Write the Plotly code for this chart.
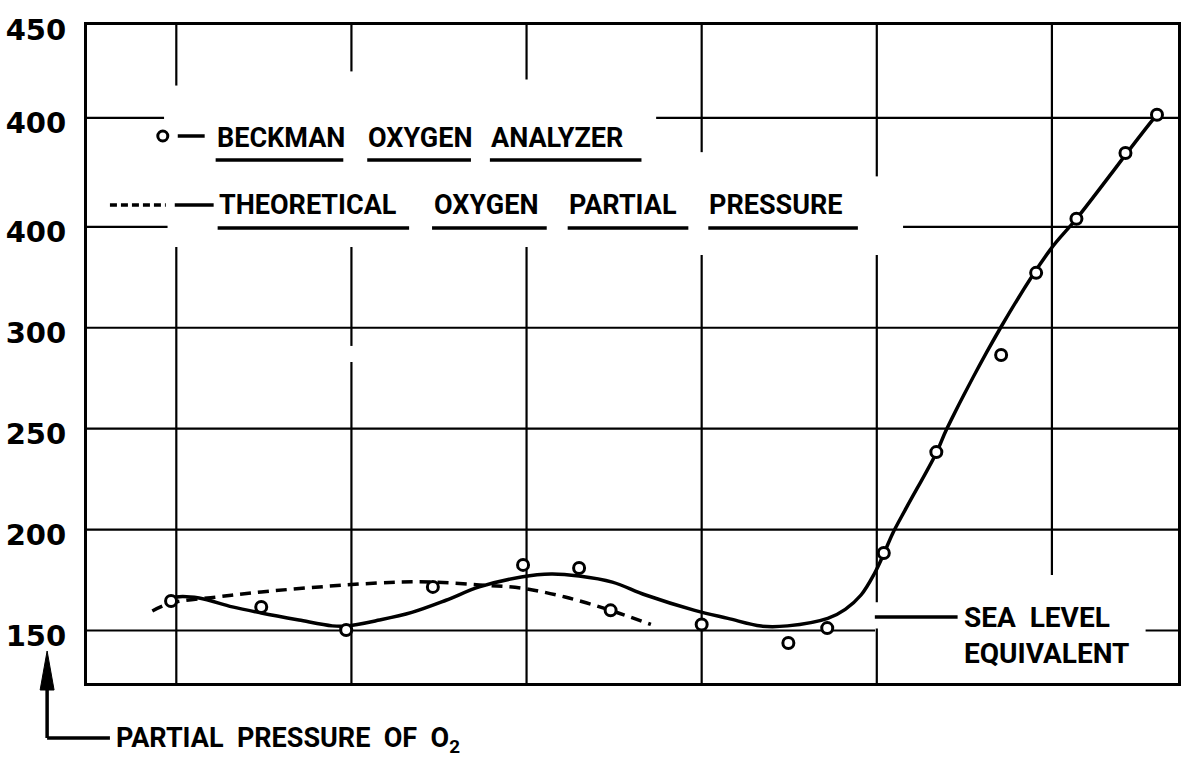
import plotly.graph_objects as go

# Beckman oxygen analyzer readings (x in grid-division units)
beckman_x = [0.97, 1.485, 1.97, 2.465, 2.98, 3.30, 3.48, 4.00, 4.495, 4.717,
             5.04, 5.34, 5.71, 5.91, 6.14, 6.42, 6.60]
beckman_y = [164.6, 161.7, 150.2, 171.6, 182.5, 181.0, 160.0, 153.0, 143.8, 151.2,
             188.4, 238.4, 286.5, 327.2, 354.0, 386.6, 405.5]

# Smoothed curve drawn through the analyzer readings
fit_x = [0.97, 1.0, 1.13, 1.32, 1.485, 1.70, 1.89, 1.97, 2.16, 2.345, 2.54, 2.73,
         2.97, 3.14, 3.30, 3.49, 3.68, 3.96, 4.15, 4.34, 4.49, 4.72, 4.82, 4.91,
         4.985, 5.04, 5.09, 5.17, 5.34, 5.40, 5.71, 5.99, 6.14, 6.60, 6.62]
fit_y = [165.5, 166.6, 166.1, 161.7, 158.7, 155.2, 152.3, 152.2, 155.2, 159.0, 165.0, 171.6,
         176.5, 178.0, 177.0, 174.0, 167.6, 160.0, 156.0, 152.2, 152.3, 156.0, 160.5, 167.6,
         178.0, 188.0, 198.0, 211.0, 238.0, 250.0, 300.5, 338.6, 354.0, 405.5, 407.0]

# Theoretical oxygen partial pressure
theory_x = [0.863, 0.97, 1.23, 1.485, 1.97, 2.27, 2.46, 2.73, 2.97, 3.22, 3.48, 3.71]
theory_y = [159.7, 163.6, 166.6, 169.1, 172.6, 174.0, 174.0, 172.6, 171.0, 166.6, 160.0, 153.0]

# Y axis ticks as lettered on the chart
y_ticks = [150, 200, 250, 300, 350, 404, 450]
y_labels = ["150", "200", "250", "300", "400", "400", "450"]

X_RANGE = [0.49, 6.72]
Y_RANGE = [124, 450]

# Page layout: plot area in pixels
W, H = 1184, 763
L, R, T, B = 87, 3, 25, 80
PW, PH = W - L - R, H - T - B


def px(x):
    return (x - L) / PW


def py(y):
    return (H - B - y) / PH


INK = "black"
FONT = "Roboto"

fig = go.Figure()

fig.add_trace(go.Scatter(x=theory_x, y=theory_y, mode="lines", line_shape="spline",
                         line=dict(color=INK, width=3.5, dash="11px,7px"), hoverinfo="skip"))
fig.add_trace(go.Scatter(x=fit_x, y=fit_y, mode="lines", line_shape="spline",
                         line=dict(color=INK, width=3.5, smoothing=1.0), hoverinfo="skip"))
fig.add_trace(go.Scatter(x=beckman_x, y=beckman_y, mode="markers",
                         marker=dict(symbol="circle", size=11, color="white",
                                     line=dict(color=INK, width=3))))

shapes = []

# Grid segments (gaps left around the key and notes)
vgrid = {
    1: [(450, 420), (340, 124)],
    2: [(450, 427), (340, 291), (283, 124)],
    3: [(450, 423), (340, 124)],
    4: [(450, 387), (336, 124)],
    5: [(450, 375), (336, 164), (151, 124)],
    6: [(450, 177.5)],
}
for gx, segs in vgrid.items():
    for y0, y1 in segs:
        shapes.append(dict(type="line", xref="x", yref="y", x0=gx, x1=gx, y0=y0, y1=y1,
                           line=dict(color=INK, width=2.2), layer="below"))

hgrid = {
    404: [(X_RANGE[0], 0.93), (3.74, X_RANGE[1])],
    350: [(X_RANGE[0], 0.95), (5.15, X_RANGE[1])],
    300: [(X_RANGE[0], X_RANGE[1])],
    250: [(X_RANGE[0], X_RANGE[1])],
    200: [(X_RANGE[0], X_RANGE[1])],
    150: [(X_RANGE[0], 4.99), (6.535, X_RANGE[1])],
}
for gy, segs in hgrid.items():
    for x0, x1 in segs:
        shapes.append(dict(type="line", xref="x", yref="y", x0=x0, x1=x1, y0=gy, y1=gy,
                           line=dict(color=INK, width=2.2), layer="below"))


def seg(x0, y0, x1, y1, width=3, dash=None):
    line = dict(color=INK, width=width)
    if dash:
        line["dash"] = dash
    shapes.append(dict(type="line", xref="paper", yref="paper",
                       x0=px(x0), y0=py(y0), x1=px(x1), y1=py(y1), line=line))


# Key: circle sample and dash for the analyzer row
shapes.append(dict(type="circle", xref="paper", yref="paper", xsizemode="pixel", ysizemode="pixel",
                   xanchor=px(163), yanchor=py(136), x0=-5, x1=5, y0=-5, y1=5,
                   line=dict(color=INK, width=3), fillcolor="white"))
seg(178, 136, 205, 136, width=3.5)
# Key: dotted sample and dash for the theoretical row
seg(110, 205, 166, 205, width=3.5, dash="7px,4px")
seg(175, 205, 214, 205, width=3.5)

# Underlines below each key word
for x0, x1, y in [(216, 344, 160), (368, 472, 160), (491, 643, 160),
                  (218, 410, 228), (433, 548, 228), (569, 690, 228), (710, 860, 228)]:
    seg(x0, y, x1, y, width=3.5)

# Sea level leader line
seg(877, 617, 960, 617, width=3.5)

# Axis label arrow
seg(47, 738, 47, 686, width=3.5)
seg(47, 738, 110, 738, width=3.5)
shapes.append(dict(type="path", xref="paper", yref="paper",
                   path=f"M {px(40)} {py(690)} L {px(47)} {py(651)} L {px(54)} {py(690)} Z",
                   fillcolor=INK, line=dict(color=INK, width=1)))

annotations = []


def label(text, x, y, size=27, anchor="left"):
    annotations.append(dict(text=text, xref="paper", yref="paper", x=px(x), y=py(y),
                            xanchor=anchor, yanchor="middle", showarrow=False,
                            font=dict(family=FONT, size=size, color=INK, weight="bold")))


for word, x in [("BECKMAN", 215), ("OXYGEN", 367), ("ANALYZER", 490)]:
    label(word, x, 138)
for word, x in [("THEORETICAL", 217), ("OXYGEN", 433), ("PARTIAL", 568), ("PRESSURE", 709)]:
    label(word, x, 205)
label("SEA  LEVEL", 964, 617, size=28)
label("EQUIVALENT", 964, 653, size=28)
label("PARTIAL  PRESSURE  OF  O<sub>2</sub>", 114, 740, size=27)

fig.update_layout(
    width=W, height=H,
    margin=dict(l=L, r=R, t=T, b=B),
    paper_bgcolor="white", plot_bgcolor="white",
    showlegend=False,
    shapes=shapes,
    annotations=annotations,
    xaxis=dict(range=X_RANGE, showgrid=False, zeroline=False, showticklabels=False,
               ticks="", showline=True, mirror=True, linecolor=INK, linewidth=3),
    yaxis=dict(range=Y_RANGE, showgrid=False, zeroline=False, tickmode="array",
               tickvals=y_ticks, ticktext=y_labels, ticks="",
               ticklabelstandoff=12, ticklabelshift=5,
               tickfont=dict(family="DejaVu Sans", size=29, color=INK, weight="bold"),
               showline=True, mirror=True, linecolor=INK, linewidth=3),
)

fig.write_html("out.html")
